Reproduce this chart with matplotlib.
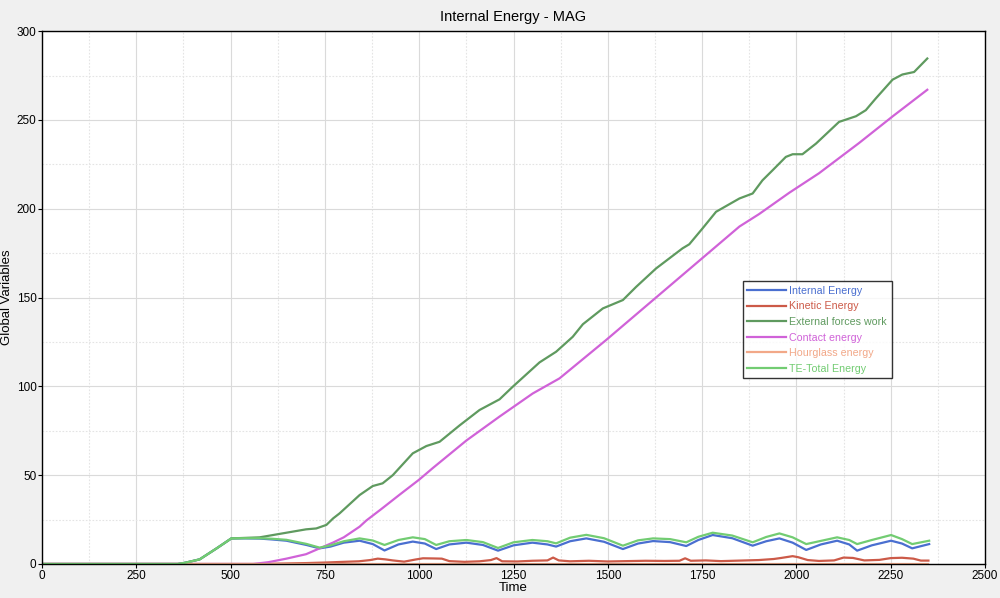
import matplotlib
matplotlib.use("Agg")
import matplotlib.pyplot as plt
from matplotlib.ticker import MultipleLocator

# Internal energy
t_int = [0, 360, 380, 418, 463, 502, 540, 577, 610, 648, 701, 736, 765, 800, 842, 877, 908,
         945, 983, 1015, 1045, 1080, 1125, 1169, 1209, 1250, 1300, 1340, 1363, 1400, 1443,
         1490, 1540, 1580, 1620, 1665, 1708, 1740, 1778, 1830, 1884, 1920, 1955, 1990, 2026,
         2065, 2108, 2140, 2161, 2200, 2251, 2280, 2307, 2352]
v_int = [0, 0, 0.7, 2.6, 8.8, 14.4, 14.4, 14.3, 13.8, 13.1, 10.7, 8.8, 9.8, 12, 13.1, 11.2, 7.6,
         11, 12.6, 11.5, 8.4, 11, 12, 10.7, 7.5, 10.5, 12, 11, 9.8, 12.8, 14.4,
         12.5, 8.4, 11.5, 12.9, 12.3, 10.1, 13.5, 16.3, 14.5, 10.3, 12.8, 14.4, 12, 7.9,
         11, 13.1, 11, 7.5, 10.5, 13.1, 11.5, 8.8, 11.2]

# Kinetic energy
t_kin = [0, 580, 650, 700, 750, 800, 840, 870, 890, 910, 930, 960, 990, 1010, 1040, 1060, 1080,
         1120, 1160, 1190, 1205, 1220, 1260, 1300, 1340, 1355, 1370, 1400, 1450, 1500, 1550,
         1600, 1650, 1690, 1705, 1720, 1760, 1800, 1850, 1900, 1940, 1960, 1990, 2005, 2030,
         2060, 2100, 2125, 2150, 2180, 2220, 2250, 2280, 2310, 2330, 2350]
v_kin = [0, 0, 0.3, 0.5, 0.8, 1.2, 1.5, 2.2, 3.0, 2.6, 2.0, 1.3, 2.5, 3.2, 3.1, 3.0, 1.6,
         1.2, 1.5, 2.2, 3.3, 1.5, 1.4, 1.8, 2.0, 3.6, 2.0, 1.5, 1.8, 1.4, 1.6,
         1.8, 1.7, 1.8, 3.2, 1.8, 2.0, 1.6, 1.9, 2.2, 2.8, 3.4, 4.4, 3.8, 2.2,
         1.7, 2.0, 3.6, 3.4, 2.0, 2.3, 3.3, 3.5, 3.0, 1.9, 1.9]

# External forces work
t_ext = [0, 360, 380, 418, 463, 502, 577, 648, 700, 727, 754, 772, 789, 842, 877, 903, 930,
         983, 1019, 1054, 1107, 1160, 1213, 1248, 1319, 1363, 1407, 1434, 1487, 1540, 1575,
         1628, 1698, 1716, 1751, 1787, 1849, 1884, 1910, 1937, 1972, 1990, 2016, 2052, 2113,
         2158, 2184, 2210, 2255, 2281, 2312, 2347]
v_ext = [0, 0, 0.7, 2.6, 8.8, 14.4, 15, 17.6, 19.5, 20, 22, 25.7, 28.5, 38.8, 43.9, 45.4, 50,
         62.3, 66.4, 68.8, 78, 86.7, 92.7, 99.8, 113.5, 119.5, 127.9, 135, 143.9, 148.6, 156,
         166.4, 177.7, 180, 188.9, 198.3, 205.8, 208.6, 216, 221.7, 229.2, 230.7, 230.7, 236.7, 248.9,
         252.1, 255.5, 262, 272.7, 275.6, 277, 284.6]

# Contact energy
t_con = [0, 560, 600, 648, 700, 736, 771, 800, 842, 860, 900, 948, 1000, 1036, 1125, 1213,
         1301, 1372, 1495, 1672, 1849, 1901, 1981, 2060, 2166, 2255, 2347]
v_con = [0, 0, 1, 3, 5.5, 8.8, 12, 15, 21, 24.5, 31, 39, 47.5, 54, 69.5, 83,
         96, 104.5, 126, 158, 190, 197, 209, 220, 237, 252, 267]

# Hourglass energy
t_hg = [0, 2350]
v_hg = [0, 0]

# TE-Total energy
t_te = t_int
v_te = [0, 0, 0.7, 2.6, 8.8, 14.4, 14.5, 14.5, 14.2, 13.6, 11.3, 9.2, 10.5, 12.8, 14.4, 13.2, 10.7,
        13.5, 15, 14, 10.7, 12.8, 13.5, 12.3, 9.0, 12.2, 13.5, 12.8, 11.6, 14.8, 16.4,
        14.5, 10.3, 13.3, 14.4, 14, 12.2, 15.3, 17.6, 16, 12.2, 15.2, 17.2, 15, 11.2,
        13, 15, 13.5, 11.2, 13.5, 16.3, 14, 11.2, 13.1]

series = [
    ("Internal Energy", t_int, v_int, "#4a6fd0"),
    ("Kinetic Energy", t_kin, v_kin, "#cc5a48"),
    ("External forces work", t_ext, v_ext, "#5f9a5f"),
    ("Contact energy", t_con, v_con, "#d062d8"),
    ("Hourglass energy", t_hg, v_hg, "#f2a888"),
    ("TE-Total Energy", t_te, v_te, "#72cc72"),
]

plt.rcParams['font.family'] = ['Liberation Sans Narrow', 'Liberation Sans', 'DejaVu Sans']

fig = plt.figure(figsize=(10, 5.98), dpi=100, facecolor="#f0f0f0")
ax = fig.add_axes([0.042, 0.0569, 0.943, 0.891])
ax.set_facecolor("white")

for name, t, v, c in series:
    ax.plot(t, v, color=c, lw=1.6, label=name, solid_joinstyle="round")

ax.set_xlim(0, 2500)
ax.set_ylim(0, 300)
ax.xaxis.set_major_locator(MultipleLocator(250))
ax.xaxis.set_minor_locator(MultipleLocator(125))
ax.yaxis.set_major_locator(MultipleLocator(50))
ax.yaxis.set_minor_locator(MultipleLocator(25))
ax.grid(which="major", color="#dadada", lw=0.8)
ax.grid(which="minor", color="#e4e4e4", lw=0.8, ls=(0, (1.5, 1.5)))
ax.set_axisbelow(True)
ax.tick_params(which="major", direction="out", length=3, labelsize=8.5, pad=1)
ax.tick_params(which="minor", length=0)
for s in ax.spines.values():
    s.set_color("black")
    s.set_linewidth(1.0)

ax.set_title("Internal Energy - MAG", fontsize=10.5, family=['Liberation Sans', 'DejaVu Sans'], pad=7)
ax.set_xlabel("Time", fontsize=9.5, family=['Liberation Sans', 'DejaVu Sans'], labelpad=0)
ax.set_ylabel("Global Variables", fontsize=9.5, family=['Liberation Sans', 'DejaVu Sans'])
ax.yaxis.set_label_coords(-0.031, 0.5)

leg = ax.legend(loc="upper left", bbox_to_anchor=(0.743, 0.531),
                frameon=True, fancybox=False, handlelength=3.6, handletextpad=0.3,
                labelspacing=0.52, borderpad=0.45, borderaxespad=0,
                prop={'family': ['Liberation Sans', 'DejaVu Sans'], 'size': 7.7})
leg.get_frame().set_edgecolor("black")
leg.get_frame().set_linewidth(1.0)
for txt, (_, _, _, c) in zip(leg.get_texts(), series):
    txt.set_color(c)

fig.savefig("out.png", dpi=100, facecolor=fig.get_facecolor())
